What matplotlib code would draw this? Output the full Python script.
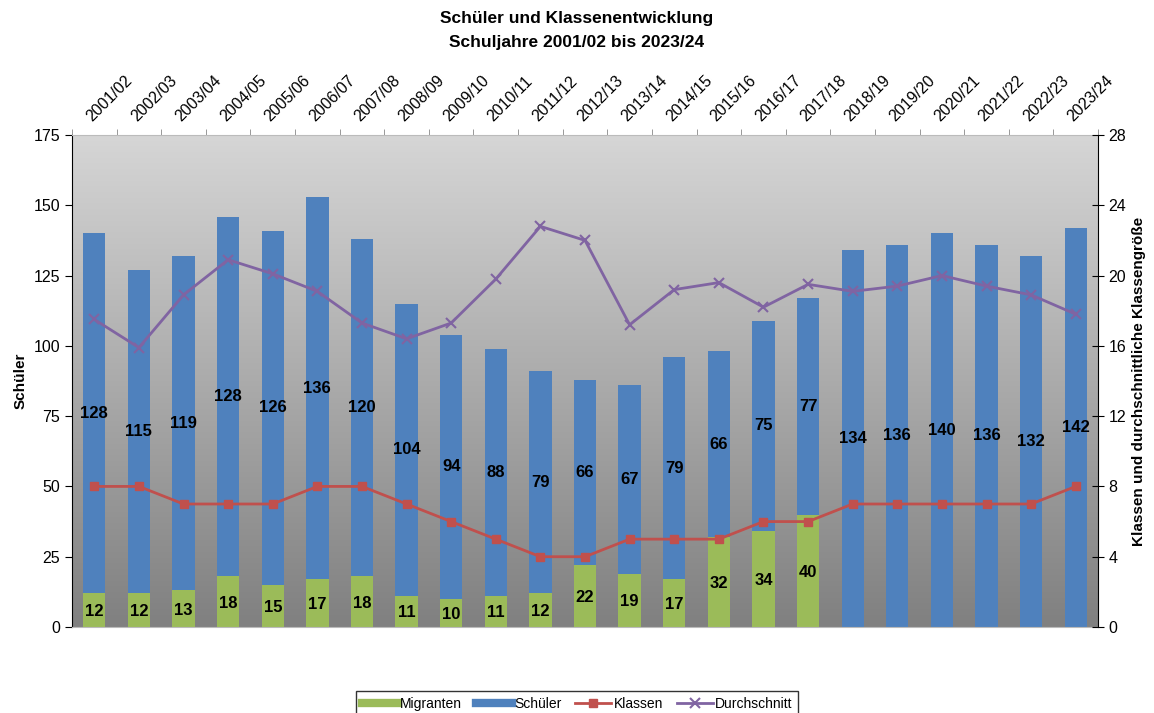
import matplotlib.pyplot as plt
import numpy as np
from matplotlib.lines import Line2D

plt.rcParams['font.family'] = ['Liberation Sans', 'DejaVu Sans']

# data
jahre = ['2001/02', '2002/03', '2003/04', '2004/05', '2005/06', '2006/07', '2007/08',
         '2008/09', '2009/10', '2010/11', '2011/12', '2012/13', '2013/14', '2014/15',
         '2015/16', '2016/17', '2017/18', '2018/19', '2019/20', '2020/21', '2021/22',
         '2022/23', '2023/24']
migranten = [12, 12, 13, 18, 15, 17, 18, 11, 10, 11, 12, 22, 19, 17, 32, 34, 40,
             0, 0, 0, 0, 0, 0]
schueler = [128, 115, 119, 128, 126, 136, 120, 104, 94, 88, 79, 66, 67, 79, 66, 75, 77,
            134, 136, 140, 136, 132, 142]
klassen = [8, 8, 7, 7, 7, 8, 8, 7, 6, 5, 4, 4, 5, 5, 5, 6, 6, 7, 7, 7, 7, 7, 8]
durchschnitt = [17.5, 15.9, 18.9, 20.9, 20.1, 19.1, 17.3, 16.4, 17.3, 19.8, 22.8, 22.0,
                17.2, 19.2, 19.6, 18.2, 19.5, 19.1, 19.4, 20.0, 19.4, 18.9, 17.8]

c_green = '#9BBB59'
c_blue = '#4F81BD'
c_red = '#C0504D'
c_purple = '#8064A2'

fig = plt.figure(figsize=(11.54, 7.13), dpi=100)
ax = fig.add_axes([0.0624, 0.1206, 0.8891, 0.6901])
x = np.arange(len(jahre))

# gradient background
grad = np.linspace(0, 1, 256).reshape(-1, 1)
ax.imshow(grad, extent=[0, 1, 0, 1], transform=ax.transAxes, aspect='auto',
          cmap=plt.matplotlib.colors.LinearSegmentedColormap.from_list('g', ['#808080', '#d6d6d6']),
          origin='lower', zorder=0)

ax.bar(x, migranten, width=0.5, color=c_green, zorder=2)
ax.bar(x, schueler, width=0.5, bottom=migranten, color=c_blue, zorder=2)

for i in range(len(x)):
    if migranten[i] > 0:
        ax.text(x[i], migranten[i] / 2 - 0.5, str(migranten[i]), ha='center', va='center',
                fontsize=12, fontweight='bold', zorder=5)
    ax.text(x[i], migranten[i] + schueler[i] / 2, str(schueler[i]), ha='center', va='center',
            fontsize=12, fontweight='bold', zorder=5)

ax.set_xlim(-0.5, len(jahre) - 0.5)
ax.set_ylim(0, 175)
ax.set_yticks(range(0, 176, 25))
ax.tick_params(axis='y', labelsize=11.5, length=5, direction='out')
ax.set_ylabel('Schüler', fontsize=11, fontweight='bold')

ax.xaxis.tick_top()
ax.set_xticks(x)
ax.set_xticklabels(jahre, rotation=45, ha='left', va='bottom', rotation_mode='anchor', fontsize=11.5)
ax.tick_params(axis='x', which='major', length=0, pad=8)
ax.set_xticks(np.arange(-0.5, len(jahre), 1), minor=True)
ax.tick_params(axis='x', which='minor', length=4, top=True, bottom=False, color='#888888')

for s in ['top', 'bottom']:
    ax.spines[s].set_color('#bbbbbb')
ax.spines['right'].set_visible(False)

ax2 = ax.twinx()
ax2.patch.set_visible(False)
ax2.plot(x, klassen, color=c_red, lw=2, marker='s', ms=6, zorder=4)
ax2.plot(x, durchschnitt, color=c_purple, lw=2, marker='x', ms=7, mew=1.5, zorder=4)
ax2.set_ylim(0, 28)
ax2.set_yticks(range(0, 29, 4))
ax2.tick_params(axis='y', labelsize=11.5, length=8, direction='inout')
ax2.set_ylabel('Klassen und durchschnittliche Klassengröße', fontsize=11, fontweight='bold')
for s in ['top', 'bottom', 'left']:
    ax2.spines[s].set_visible(False)

fig.text(0.5, 1 - 18 / 713, 'Schüler und Klassenentwicklung', ha='center', va='center',
         fontsize=12.5, fontweight='bold')
fig.text(0.5, 1 - 42 / 713, 'Schuljahre 2001/02 bis 2023/24', ha='center', va='center',
         fontsize=12.5, fontweight='bold')

handles = [Line2D([], [], color=c_green, lw=6),
           Line2D([], [], color=c_blue, lw=6),
           Line2D([], [], color=c_red, lw=2, marker='s', ms=6),
           Line2D([], [], color=c_purple, lw=2, marker='x', ms=7, mew=1.5)]
leg = fig.legend(handles, ['Migranten', 'Schüler', 'Klassen', 'Durchschnitt'],
                 loc='upper center', bbox_to_anchor=(0.5, 0.04), ncol=4, fontsize=10,
                 frameon=True, fancybox=False, edgecolor='black', handlelength=2.6,
                 handletextpad=0.15, columnspacing=1.0, borderpad=0.4)
leg.get_frame().set_linewidth(1)

fig.savefig('out.png', dpi=100)
